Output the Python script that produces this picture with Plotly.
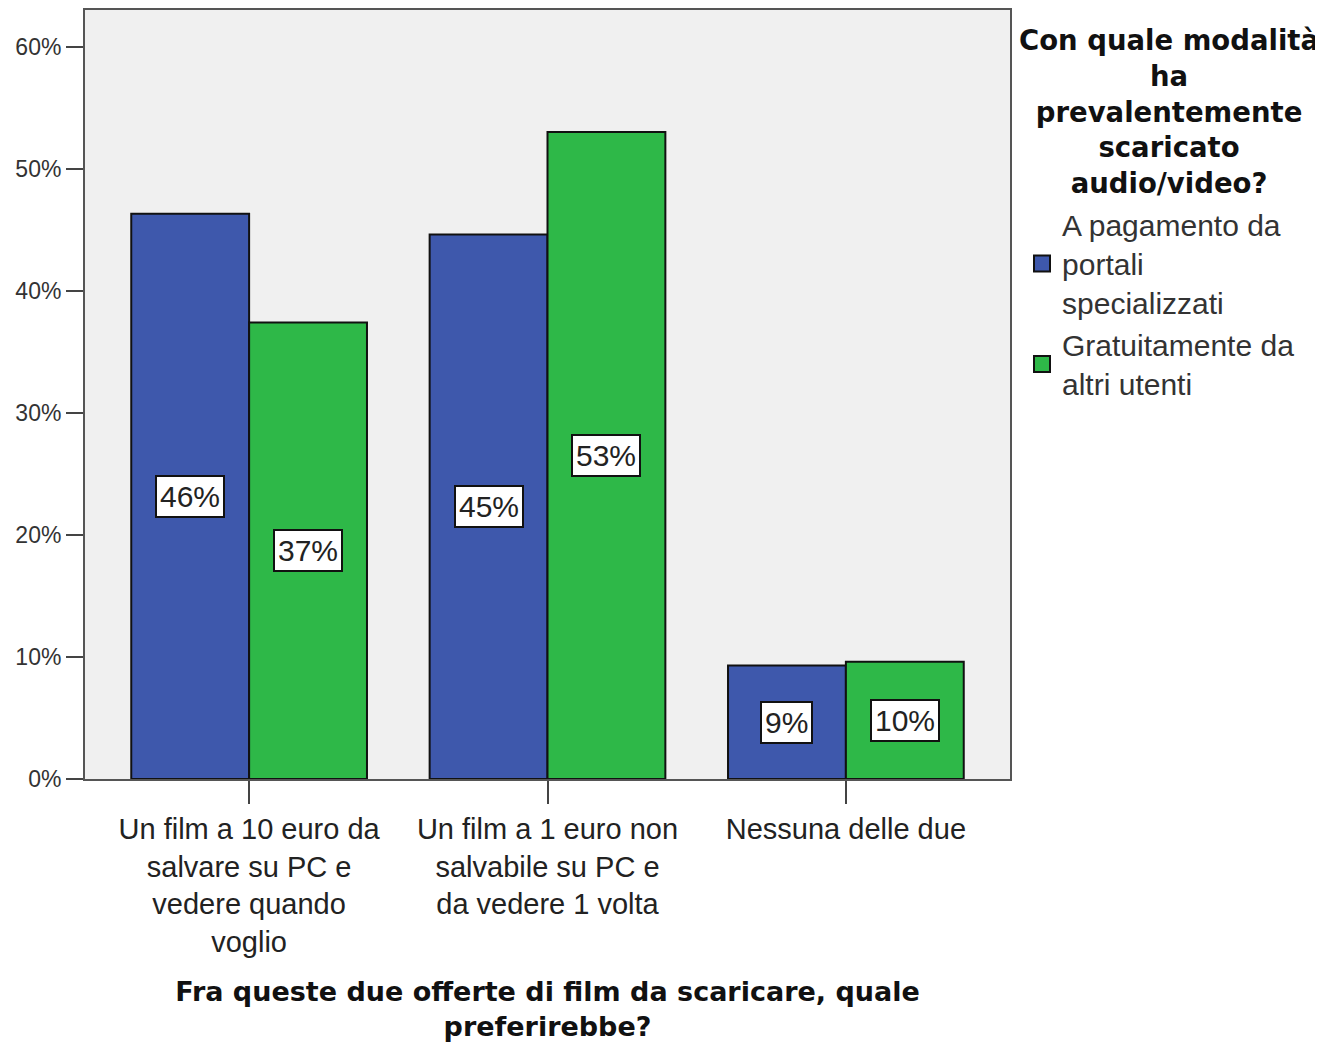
import plotly.graph_objects as go

categories = [
    "Un film a 10 euro da<br>salvare su PC e<br>vedere quando<br>voglio",
    "Un film a 1 euro non<br>salvabile su PC e<br>da vedere 1 volta",
    "Nessuna delle due",
]
series_names = [
    "A pagamento da<br>portali<br>specializzati",
    "Gratuitamente da<br>altri utenti",
]
paid_values = [46.3, 44.6, 9.3]
free_values = [37.4, 53.0, 9.6]
y_ticks = [0, 10, 20, 30, 40, 50, 60]
y_tick_labels = ["0%", "10%", "20%", "30%", "40%", "50%", "60%"]
colors = ["#3E58AC", "#2EB848"]

x_title = "Fra queste due offerte di film da scaricare, quale<br>preferirebbe?"
legend_title = "Con quale modalità<br>ha<br>prevalentemente<br>scaricato<br>audio/video?"

idx = list(range(len(categories)))
fig = go.Figure()
series = [paid_values, free_values]
for k, (name, vals) in enumerate(zip(series_names, series)):
    fig.add_trace(go.Bar(
        x=idx, y=vals, name=name, showlegend=False,
        marker=dict(color=colors[k], line=dict(color="#111111", width=2)),
        hoverinfo="skip",
    ))
    fig.add_trace(go.Scatter(
        x=[None], y=[None], mode="markers", name=name,
        marker=dict(symbol="square", size=16, color=colors[k],
                    line=dict(color="#111111", width=2)),
    ))

bargap = 0.21
half = (1 - bargap) / 4
for k, vals in enumerate(series):
    off = -half if k == 0 else half
    for i, v in enumerate(vals):
        fig.add_annotation(
            x=i + off, y=v / 2, text=f"{round(v)}%", showarrow=False,
            font=dict(family="Liberation Sans", size=30, color="#222222"),
            bgcolor="white", bordercolor="#111111", borderwidth=2, borderpad=3,
        )

# legend title (centered, multi-line)
fig.add_annotation(
    xref="paper", yref="paper", x=1.172, y=0.985, xanchor="center", yanchor="top",
    text=legend_title, showarrow=False, align="center",
    font=dict(family="DejaVu Sans", size=27.5, color="#111111", weight="bold"),
)

fig.update_layout(
    width=1315, height=1037,
    barmode="group", bargap=bargap, bargroupgap=0,
    paper_bgcolor="white", plot_bgcolor="#F0F0F0",
    margin=dict(l=77, r=313, t=0, b=266),
    font=dict(family="Liberation Sans", color="#222222"),
    xaxis=dict(
        range=[-0.55, 2.55], tickvals=idx, ticktext=categories,
        ticks="outside", ticklen=23, tickwidth=2, tickcolor="#444444",
        tickfont=dict(size=29, color="#222222"),
        showline=True, linecolor="#555555", linewidth=2, mirror=True,
        showgrid=False, zeroline=False,
        title=dict(text=x_title, standoff=25,
                   font=dict(family="DejaVu Sans", size=27, color="#111111", weight="bold")),
    ),
    yaxis=dict(
        range=[0, 63.0], tickvals=y_ticks, ticktext=y_tick_labels,
        ticks="outside", ticklen=17, tickwidth=2, tickcolor="#444444",
        tickfont=dict(size=23, color="#333333"),
        showline=True, linecolor="#555555", linewidth=2, mirror=True,
        showgrid=False, zeroline=False,
    ),
    legend=dict(
        x=1.013, xanchor="left", y=0.755, yanchor="top",
        font=dict(family="Liberation Sans", size=30, color="#333333"),
        bgcolor="rgba(0,0,0,0)",
    ),
)

fig.write_html("out.html")
